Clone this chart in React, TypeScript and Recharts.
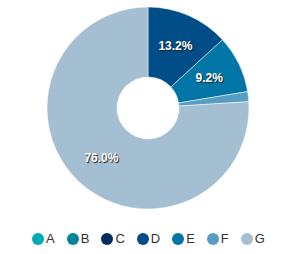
import { PieChart, Pie, Cell, Legend } from "recharts";

const categories = ["A", "B", "C", "D", "E", "F", "G"];
const shares = [0, 0, 0, 13.2, 9.2, 1.6, 76.0];
const colors = ["#00a9b5", "#00859b", "#002c5e", "#004d87", "#0075a6", "#579dc2", "#a3bfd1"];

const data = categories.map((name, i) => ({ name, value: shares[i] }));

const RADIAN = Math.PI / 180;
const FONT = "'Liberation Sans', Arial, sans-serif";

const renderLabel = ({ cx, cy, midAngle, value }: any) => {
  if (value < 5) return null;
  const r = 68;
  const x = cx + r * Math.cos(-midAngle * RADIAN);
  const y = cy + r * Math.sin(-midAngle * RADIAN);
  return (
    <text
      x={x}
      y={y}
      fill="#fff"
      textAnchor="middle"
      dominantBaseline="central"
      fontSize={12}
      fontWeight="bold"
      fontFamily={FONT}
      style={{ textShadow: "1px 1px 1px #222" }}
    >
      {value.toFixed(1)}%
    </text>
  );
};

const CustomLegend = () => (
  <div
    style={{
      display: "flex",
      justifyContent: "center",
      alignItems: "center",
      fontFamily: FONT,
      fontSize: 13,
      color: "#333",
    }}
  >
    {categories.map((c, i) => (
      <span
        key={c}
        style={{ display: "flex", alignItems: "center", marginRight: i < categories.length - 1 ? 12 : 0 }}
      >
        <span
          style={{
            display: "inline-block",
            width: 12,
            height: 12,
            borderRadius: "50%",
            background: colors[i],
            marginRight: 2,
          }}
        />
        {c}
      </span>
    ))}
  </div>
);

export default function App() {
  return (
    <div style={{ position: "absolute", left: 0, top: 0, background: "#fff" }}>
      <PieChart width={297} height={254} margin={{ top: 0, right: 0, bottom: 0, left: 0 }}>
        <Pie
          data={data}
          dataKey="value"
          nameKey="name"
          cx={148}
          cy={108}
          innerRadius={31}
          outerRadius={101}
          startAngle={90}
          endAngle={-270}
          stroke="#ffffff"
          strokeWidth={0.5}
          label={renderLabel}
          labelLine={false}
          isAnimationActive={false}
        >
          {data.map((d, i) => (
            <Cell key={d.name} fill={colors[i]} />
          ))}
        </Pie>
        <Legend
          verticalAlign="bottom"
          align="center"
          content={<CustomLegend />}
          wrapperStyle={{ bottom: 8 }}
        />
      </PieChart>
    </div>
  );
}
